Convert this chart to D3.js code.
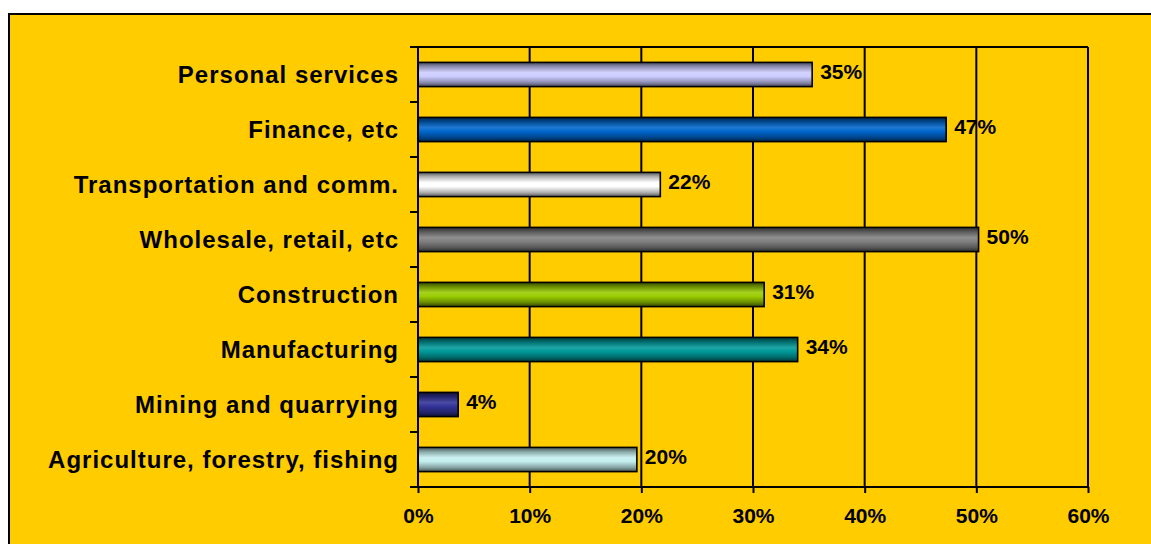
<!DOCTYPE html>
<html>
<head>
<meta charset="utf-8">
<script src="https://cdn.jsdelivr.net/npm/d3@7"></script>
<style>
  html, body { margin: 0; padding: 0; background: #ffffff; }
  svg { display: block; }
  text { font-family: "Liberation Sans", Arial, sans-serif; font-weight: bold; fill: #000; }
</style>
</head>
<body>
<svg id="chart" width="1151" height="544"></svg>
<script>
// Share of employment by sector (percent), top to bottom
const categories = [
  "Personal services",
  "Finance, etc",
  "Transportation and comm.",
  "Wholesale, retail, etc",
  "Construction",
  "Manufacturing",
  "Mining and quarrying",
  "Agriculture, forestry, fishing"
];
const values = [35.3, 47.3, 21.7, 50.2, 31.0, 34.0, 3.6, 19.6];
const barColors = ["#CCCCFF", "#0066CC", "#FFFFFF", "#808080", "#99CC00", "#009999", "#333399", "#C4EEEE"];
const xTicks = [0, 10, 20, 30, 40, 50, 60];

const W = 1151, H = 544;
const svg = d3.select("#chart");

// Panel background with its frame running off the right and bottom edges
svg.append("rect")
  .attr("x", 9).attr("y", 14)
  .attr("width", W).attr("height", H)
  .attr("fill", "#FFCC00")
  .attr("stroke", "#000").attr("stroke-width", 2);

const plot = { left: 418, right: 1088, top: 47, bottom: 487 };

const x = d3.scaleLinear().domain([0, 60]).range([plot.left, plot.right]);
const y = d3.scaleBand().domain(categories)
  .range([plot.top, plot.bottom])
  .paddingInner(0.56).paddingOuter(0.28);

// Cylinder-like shading for each bar
const defs = svg.append("defs");
barColors.forEach((c, i) => {
  const dark = t => d3.interpolateRgb(c, "#000")(t);
  const light = t => d3.interpolateRgb(c, "#fff")(t);
  const g = defs.append("linearGradient")
    .attr("id", "barGrad" + i)
    .attr("x1", 0).attr("y1", 0).attr("x2", 0).attr("y2", 1);
  [
    [0, dark(0.65)],
    [0.18, dark(0.3)],
    [0.42, light(0.12)],
    [0.58, c],
    [0.82, dark(0.3)],
    [1, dark(0.65)]
  ].forEach(([o, col]) => g.append("stop").attr("offset", o).attr("stop-color", col));
});

// Vertical gridlines
svg.append("g")
  .selectAll("line")
  .data(xTicks.slice(1))
  .join("line")
  .attr("x1", d => x(d)).attr("x2", d => x(d))
  .attr("y1", plot.top).attr("y2", plot.bottom)
  .attr("stroke", "#000").attr("stroke-width", 2);

// Top border of the plot area
svg.append("line")
  .attr("x1", plot.left).attr("x2", plot.right)
  .attr("y1", plot.top).attr("y2", plot.top)
  .attr("stroke", "#000").attr("stroke-width", 2);

// Bars
svg.append("g")
  .selectAll("rect")
  .data(categories)
  .join("rect")
  .attr("x", x(0))
  .attr("y", d => y(d))
  .attr("width", (d, i) => x(values[i]) - x(0))
  .attr("height", y.bandwidth())
  .attr("fill", (d, i) => `url(#barGrad${i})`)
  .attr("stroke", "#000").attr("stroke-width", 1.6);

// Value labels
const fmt = d3.format(".0f");
svg.append("g")
  .selectAll("text")
  .data(categories)
  .join("text")
  .attr("x", (d, i) => x(values[i]) + 8)
  .attr("y", d => y(d) + y.bandwidth() / 2)
  .attr("dy", "0.22em")
  .attr("font-size", 21)
  .text((d, i) => fmt(values[i]) + "%");

// X axis
const xAxis = d3.axisBottom(x)
  .tickValues(xTicks)
  .tickFormat(d => d + "%")
  .tickSize(6)
  .tickPadding(15);
const gx = svg.append("g")
  .attr("transform", `translate(0,${plot.bottom})`)
  .call(xAxis);
gx.select(".domain").remove();
gx.append("line")
  .attr("x1", plot.left).attr("x2", plot.right)
  .attr("stroke", "#000").attr("stroke-width", 2);
gx.selectAll(".tick line").attr("stroke", "#000").attr("stroke-width", 2);
gx.selectAll(".tick text")
  .attr("font-size", 21)
  .attr("font-family", "Liberation Sans, Arial, sans-serif")
  .attr("font-weight", "bold")
  .attr("fill", "#000");

// Y axis: line, tick marks at category boundaries, labels
const gy = svg.append("g");
gy.append("line")
  .attr("x1", plot.left).attr("x2", plot.left)
  .attr("y1", plot.top).attr("y2", plot.bottom)
  .attr("stroke", "#000").attr("stroke-width", 2);
const step = (plot.bottom - plot.top) / categories.length;
gy.selectAll("line.tick")
  .data(d3.range(categories.length + 1))
  .join("line")
  .attr("class", "tick")
  .attr("x1", plot.left - 8).attr("x2", plot.left)
  .attr("y1", k => plot.top + k * step).attr("y2", k => plot.top + k * step)
  .attr("stroke", "#000").attr("stroke-width", 2);
gy.selectAll("text")
  .data(categories)
  .join("text")
  .attr("x", 399)
  .attr("y", d => y(d) + y.bandwidth() / 2)
  .attr("dy", "0.36em")
  .attr("text-anchor", "end")
  .attr("font-size", 24)
  .attr("letter-spacing", 1)
  .text(d => d);
</script>
</body>
</html>
